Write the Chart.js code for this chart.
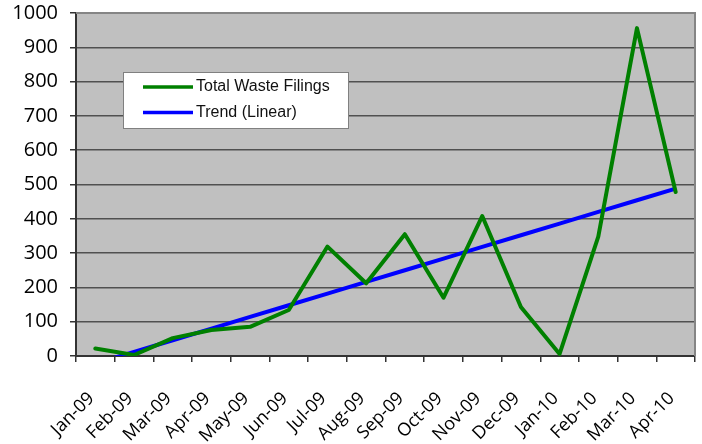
<!DOCTYPE html>
<html>
<head>
<meta charset="utf-8">
<script src="https://cdn.jsdelivr.net/npm/chart.js@4/dist/chart.umd.min.js"></script>
<style>
  html, body { margin: 0; padding: 0; background: #fff; }
  #wrap { width: 702px; height: 444px; }
</style>
</head>
<body>
<div id="wrap"><canvas id="chartCanvas" width="702" height="444"></canvas></div>
<script>
const months = ['Jan-09', 'Feb-09', 'Mar-09', 'Apr-09', 'May-09', 'Jun-09', 'Jul-09', 'Aug-09',
                'Sep-09', 'Oct-09', 'Nov-09', 'Dec-09', 'Jan-10', 'Feb-10', 'Mar-10', 'Apr-10'];
const wasteFilings = [22, 3, 52, 76, 85, 134, 319, 212, 355, 170, 408, 143, 6, 348, 956, 478];
const trendLinear = [-22, 12, 46, 80, 114, 148, 182, 216, 250, 284, 318, 352, 386, 420, 454, 488];
const yTicks = [0, 100, 200, 300, 400, 500, 600, 700, 800, 900, 1000];

// plot background + grey frame on top/right
const plotFrame = {
    id: 'plotFrame',
    beforeDraw(chart) {
        const { ctx, chartArea: a } = chart;
        ctx.save();
        ctx.fillStyle = '#c0c0c0';
        ctx.fillRect(a.left, a.top, a.right - a.left, a.bottom - a.top);
        ctx.restore();
    },
    beforeDatasetsDraw(chart) {
        const { ctx, chartArea: a } = chart;
        ctx.save();
        ctx.strokeStyle = '#858585';
        ctx.lineWidth = 2;
        ctx.beginPath();
        ctx.moveTo(a.left, a.top);
        ctx.lineTo(a.right, a.top);
        ctx.lineTo(a.right, a.bottom);
        ctx.stroke();
        ctx.restore();
    }
};

// boxed legend sitting inside the plot
const boxLegend = {
    id: 'boxLegend',
    afterDatasetsDraw(chart) {
        const ctx = chart.ctx;
        ctx.save();
        ctx.fillStyle = '#ffffff';
        ctx.fillRect(123.5, 72.5, 225, 56);
        ctx.strokeStyle = '#808080';
        ctx.lineWidth = 1;
        ctx.strokeRect(123.5, 72.5, 225, 56);
        ctx.font = '16px "Liberation Sans"';
        ctx.textBaseline = 'middle';
        chart.data.datasets.forEach((ds, i) => {
            const y = 87 + i * 25.5;
            ctx.strokeStyle = ds.borderColor;
            ctx.lineWidth = 3.5;
            ctx.beginPath();
            ctx.moveTo(143, y);
            ctx.lineTo(193, y);
            ctx.stroke();
            ctx.fillStyle = '#111';
            ctx.fillText(ds.label, 196, y);
        });
        ctx.restore();
    }
};

const ctx = document.getElementById('chartCanvas').getContext('2d');
new Chart(ctx, {
    type: 'line',
    data: {
        labels: months,
        datasets: [{
            label: 'Total Waste Filings',
            data: wasteFilings,
            borderColor: '#008000',
            borderWidth: 4,
            pointRadius: 0,
            tension: 0,
            borderCapStyle: 'round',
            borderJoinStyle: 'round'
        }, {
            label: 'Trend (Linear)',
            data: trendLinear,
            borderColor: '#0000ff',
            borderWidth: 4,
            pointRadius: 0,
            tension: 0,
            clip: 0
        }]
    },
    options: {
        responsive: false,
        animation: false,
        layout: { padding: { left: 0, top: 13, right: 7, bottom: 0 } },
        plugins: {
            legend: { display: false },
            tooltip: { enabled: false }
        },
        scales: {
            x: {
                offset: true,
                grid: {
                    offset: true,
                    drawOnChartArea: false,
                    drawTicks: true,
                    tickLength: 6,
                    color: '#333',
                    lineWidth: 1.5
                },
                border: { color: '#333', width: 2 },
                ticks: {
                    autoSkip: false,
                    minRotation: 45,
                    maxRotation: 45,
                    padding: 26,
                    labelOffset: -4,
                    color: '#000',
                    font: { family: '"Open Sans"', size: 18 }
                },
                afterFit(scale) {
                    scale.height = 88;
                    scale.paddingLeft = 0;
                    scale.paddingRight = 0;
                }
            },
            y: {
                min: 0,
                max: 1000,
                afterBuildTicks(scale) {
                    scale.ticks = yTicks.map(v => ({ value: v }));
                },
                grid: {
                    tickLength: 6,
                    lineWidth: 1.5,
                    color: c => (c.tick && c.tick.value === 1000 ? '#858585' : '#505050'),
                    tickColor: '#333'
                },
                border: { color: '#333', width: 2 },
                ticks: {
                    padding: 12,
                    color: '#000',
                    font: { family: '"Open Sans"', size: 20 },
                    callback: v => String(v)
                },
                afterFit(scale) {
                    scale.width = 76;
                    scale.paddingTop = 0;
                    scale.paddingBottom = 0;
                }
            }
        }
    },
    plugins: [plotFrame, boxLegend]
});
</script>
</body>
</html>
